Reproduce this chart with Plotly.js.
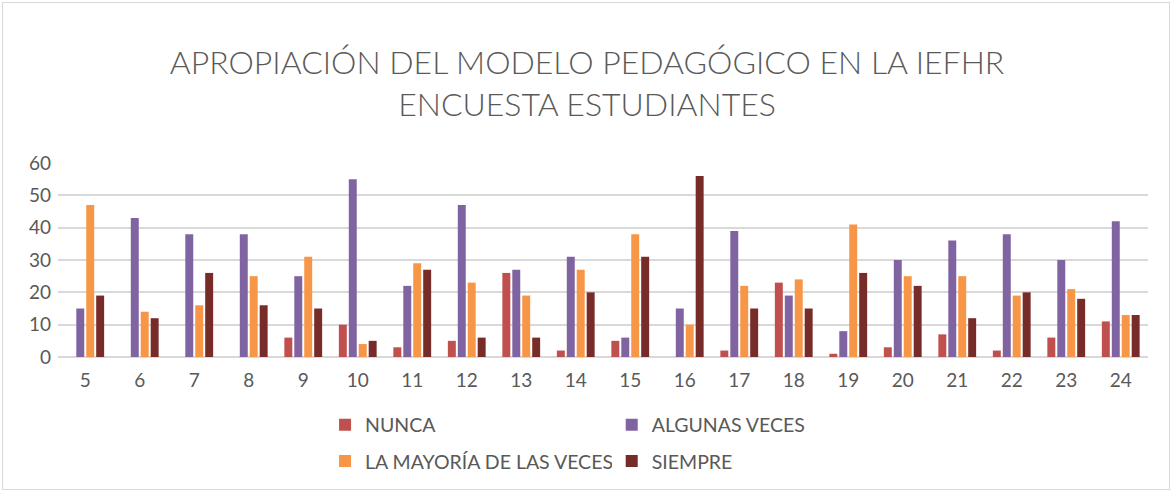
<!DOCTYPE html>
<html><head><meta charset="utf-8">
<script src="https://cdn.plot.ly/plotly-3.0.1.min.js"></script>
<style>html,body{margin:0;padding:0;background:#fff}#wrap{position:relative;width:1174px;height:493px}#frame{position:absolute;left:2px;top:2px;width:1166px;height:486px;border:1px solid #d9d9d9;pointer-events:none}</style>
</head><body><div id="wrap"><div id="chart" style="width:1174px;height:493px"></div><div id="frame"></div></div>
<script>
const categories = ['5','6','7','8','9','10','11','12','13','14','15','16','17','18','19','20','21','22','23','24'];
const nunca =          [0, 0, 0, 0, 6, 10, 3, 5, 26, 2, 5, 0, 2, 23, 1, 3, 7, 2, 6, 11];
const algunasVeces =   [15, 43, 38, 38, 25, 55, 22, 47, 27, 31, 6, 15, 39, 19, 8, 30, 36, 38, 30, 42];
const mayoriaVeces =   [47, 14, 16, 25, 31, 4, 29, 23, 19, 27, 38, 10, 22, 24, 41, 25, 25, 19, 21, 13];
const siempre =        [19, 12, 26, 16, 15, 5, 27, 6, 6, 20, 31, 56, 15, 15, 26, 22, 12, 20, 18, 13];
const seriesNames = ['NUNCA', 'ALGUNAS VECES', 'LA MAYORÍA DE LAS VECES', 'SIEMPRE'];
const colors = ['#c0504d', '#8064a2', '#f79646', '#772c2a'];

const vals = [nunca, algunasVeces, mayoriaVeces, siempre];
const legends = ['legend', 'legend2', 'legend', 'legend2'];
const traces = vals.map((v, i) => ({
  type: 'bar', x: categories, y: v, name: seriesNames[i],
  marker: {color: colors[i]}, legend: legends[i], legendgroup: 'g' + i, hoverinfo: 'x+y+name'
}));

const font = 'Lato, "Open Sans", sans-serif';
const layout = {
  width: 1174, height: 493,
  margin: {l: 58, r: 26, t: 163, b: 134},
  paper_bgcolor: '#fff', plot_bgcolor: '#fff',
  barmode: 'group', bargap: 0.27, bargroupgap: 0.2,
  font: {family: font, color: '#595959', size: 18},
  title: {text: 'APROPIACIÓN DEL MODELO PEDAGÓGICO EN LA IEFHR<br>ENCUESTA ESTUDIANTES',
          font: {family: font, size: 32, color: '#595959', weight: 300},
          x: 0.5, xanchor: 'center', y: 0.85, yanchor: 'middle', yref: 'container'},
  xaxis: {type: 'category', showgrid: false, zeroline: false, showline: false,
          ticks: '', ticklabelstandoff: 10, tickfont: {size: 19, color: '#595959'}},
  yaxis: {range: [0, 60], dtick: 10, showgrid: true, gridcolor: '#d9d9d9', gridwidth: 1.5,
          zeroline: true, zerolinecolor: '#d9d9d9', zerolinewidth: 1.5,
          ticks: '', ticklabelstandoff: 6, tickfont: {size: 19, color: '#595959'}},
  legend: {orientation: 'v', x: 0.245, xanchor: 'left', y: -0.25, yanchor: 'top',
           font: {size: 19.5, color: '#595959'}, tracegroupgap: 8, itemwidth: 30},
  legend2: {orientation: 'v', x: 0.508, xanchor: 'left', y: -0.25, yanchor: 'top',
           font: {size: 19.5, color: '#595959'}, tracegroupgap: 8, itemwidth: 30},
  showlegend: true
};
Plotly.newPlot('chart', traces, layout, {displayModeBar: false});
</script></body></html>
